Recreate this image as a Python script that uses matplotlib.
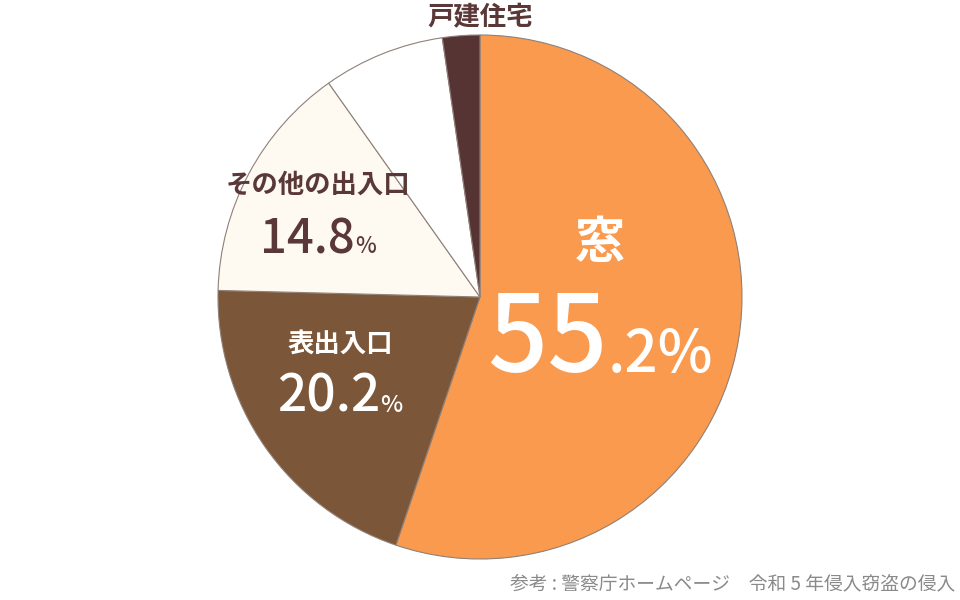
import matplotlib
matplotlib.use("Agg")
import matplotlib.pyplot as plt

plt.rcParams['font.family'] = ['Noto Sans CJK JP', 'DejaVu Sans']

# Data
categories = ['窓', '表出入口', 'その他の出入口', 'その他', '不明']
values = [55.2, 20.2, 14.8, 7.5, 2.3]
colors = ['#FA9A4E', '#7B5638', '#FEFAF1', '#FFFFFF', '#573434']
title = '戸建住宅'
source = '参考 : 警察庁ホームページ　令和 5 年侵入窃盗の侵入'

W, H = 960, 600
fig = plt.figure(figsize=(W / 100, H / 100), dpi=100)
fig.patch.set_facecolor('white')

cx, cy, r = 480, 297, 262
ax = fig.add_axes([(cx - r) / W, (H - cy - r) / H, 2 * r / W, 2 * r / H])
ax.pie(values, colors=colors, startangle=90, counterclock=False,
       wedgeprops=dict(edgecolor='#8f8078', linewidth=0.8))
ax.set_aspect('equal')
ax.set_xlim(-1, 1)
ax.set_ylim(-1, 1)
ax.axis('off')

renderer = fig.canvas.get_renderer()
dark = '#5B3838'


def parts_text(x_center, y_base, parts, color):
    """parts: list of (text, size, weight). Same baseline, centered at x_center (px from left, y px from top)."""
    texts = []
    for s, size, weight in parts:
        t = fig.text(0, 1 - y_base / H, s, fontsize=size, fontweight=weight,
                     color=color, ha='left', va='baseline')
        texts.append(t)
    widths = [t.get_window_extent(renderer).width for t in texts]
    total = sum(widths)
    x = x_center - total / 2
    for t, w in zip(texts, widths):
        t.set_x(x / W)
        x += w


def label(x_center, y_center, s, size, color, weight='bold'):
    fig.text(x_center / W, 1 - y_center / H, s, fontsize=size, fontweight=weight,
             color=color, ha='center', va='center')


def fmt(v):
    return f'{v:.1f}'


# 窓
label(600, 243, categories[0], 36, 'white')
s0 = fmt(values[0]).split('.')
parts_text(600, 372, [(s0[0], 76, 'medium'), ('.' + s0[1] + '%', 42, 'medium')], 'white')

# 表出入口
label(340, 344, categories[1], 19, 'white')
parts_text(340, 412, [(fmt(values[1]), 37, 'medium'), ('%', 17, 'medium')], 'white')

# その他の出入口
label(318, 185, categories[2], 19, dark)
parts_text(318, 253, [(fmt(values[2]), 34, 'medium'), ('%', 16, 'medium')], dark)

# title
label(480, 18, title, 19, dark)

# source
fig.text(510 / W, 1 - 589 / H, source, fontsize=13.5, color='#8a8a8a', ha='left', va='baseline')

fig.savefig('out.png', dpi=100, facecolor='white')
